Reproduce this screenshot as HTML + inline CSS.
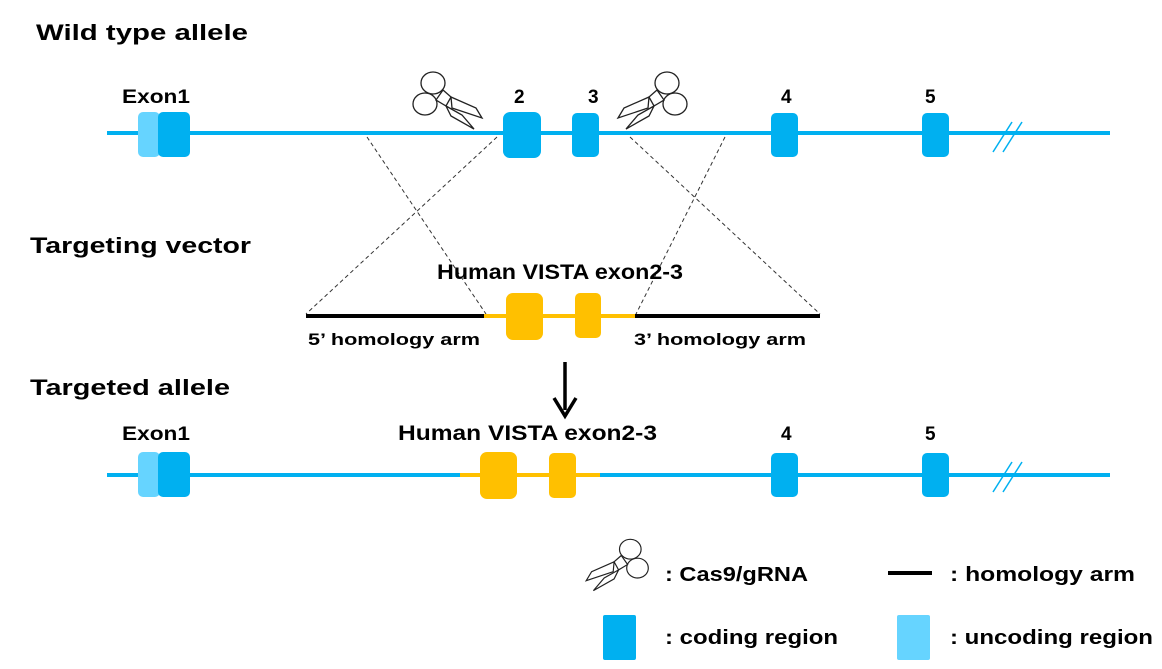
<!DOCTYPE html>
<html><head><meta charset="utf-8"><style>
body{margin:0;background:#fff;width:1162px;height:664px;overflow:hidden}
svg text{font-family:"Liberation Sans",sans-serif;font-weight:bold;fill:#000}
</style></head><body>
<svg width="1162" height="664" viewBox="0 0 1162 664" xmlns="http://www.w3.org/2000/svg">
<defs>
<g id="sc" fill="#fff" stroke="#222" stroke-width="1.3">
  <ellipse cx="33" cy="18" rx="12" ry="11"/>
  <ellipse cx="25" cy="39" rx="12" ry="11"/>
  <path d="M43 25 L51 32 L46 41 L36 35 Z"/>
  <path d="M51 32 L76 43 L82 53 L52 43 Z"/>
  <path d="M46 41 L62 50 L74 64 L51 51 Z"/>
</g>
</defs>
<g font-size="22">
<text x="36" y="40" textLength="212" lengthAdjust="spacingAndGlyphs">Wild type allele</text>
<text x="30" y="253" textLength="221" lengthAdjust="spacingAndGlyphs">Targeting vector</text>
<text x="30" y="395" textLength="200" lengthAdjust="spacingAndGlyphs">Targeted allele</text>
</g>
<!-- wild type -->
<rect x="107" y="131" width="1003" height="4" fill="#00b0f0"/>
<rect x="138" y="112" width="22" height="45" rx="5" fill="#66d4ff"/>
<rect x="158" y="112" width="32" height="45" rx="5" fill="#00b0f0"/>
<rect x="503" y="112" width="38" height="46" rx="7" fill="#00b0f0"/>
<rect x="572" y="113" width="27" height="44" rx="5" fill="#00b0f0"/>
<rect x="771" y="113" width="27" height="44" rx="5" fill="#00b0f0"/>
<rect x="922" y="113" width="27" height="44" rx="5" fill="#00b0f0"/>
<g stroke="#00b0f0" stroke-width="1.5"><line x1="993" y1="152" x2="1012" y2="122"/><line x1="1003" y1="152" x2="1022" y2="122"/></g>
<g font-size="19">
<text x="122" y="103" textLength="68" lengthAdjust="spacingAndGlyphs">Exon1</text>
<text x="514" y="103">2</text><text x="588" y="103">3</text>
<text x="781" y="103">4</text><text x="925" y="103">5</text>
</g>
<use href="#sc" transform="translate(400,65)"/>
<use href="#sc" transform="translate(700,65) scale(-1,1)"/>
<!-- dashed -->
<g stroke="#333" stroke-width="1" stroke-dasharray="4,3">
<line x1="367" y1="137" x2="486" y2="314"/>
<line x1="497" y1="137" x2="306" y2="314"/>
<line x1="630" y1="137" x2="820" y2="314"/>
<line x1="725" y1="137" x2="636" y2="314"/>
</g>
<!-- vector -->
<rect x="306" y="314" width="178" height="4" fill="#000"/>
<rect x="484" y="314" width="152" height="4" fill="#ffc000"/>
<rect x="635" y="314" width="185" height="4" fill="#000"/>
<rect x="506" y="293" width="37" height="47" rx="7" fill="#ffc000"/>
<rect x="575" y="293" width="26" height="45" rx="5" fill="#ffc000"/>
<text x="437" y="279" font-size="21" textLength="246" lengthAdjust="spacingAndGlyphs">Human VISTA exon2-3</text>
<text x="308" y="345" font-size="17" textLength="172" lengthAdjust="spacingAndGlyphs">5’ homology arm</text>
<text x="634" y="345" font-size="17" textLength="172" lengthAdjust="spacingAndGlyphs">3’ homology arm</text>
<!-- arrow -->
<line x1="565" y1="362" x2="565" y2="410" stroke="#000" stroke-width="3.5"/>
<path d="M554 398 L565 416 L576 398" fill="none" stroke="#000" stroke-width="3.5"/>
<!-- targeted -->
<rect x="107" y="473" width="353" height="4" fill="#00b0f0"/>
<rect x="460" y="473" width="140" height="4" fill="#ffc000"/>
<rect x="600" y="473" width="510" height="4" fill="#00b0f0"/>
<rect x="138" y="452" width="22" height="45" rx="5" fill="#66d4ff"/>
<rect x="158" y="452" width="32" height="45" rx="5" fill="#00b0f0"/>
<rect x="480" y="452" width="37" height="47" rx="7" fill="#ffc000"/>
<rect x="549" y="453" width="27" height="45" rx="5" fill="#ffc000"/>
<rect x="771" y="453" width="27" height="44" rx="5" fill="#00b0f0"/>
<rect x="922" y="453" width="27" height="44" rx="5" fill="#00b0f0"/>
<g stroke="#00b0f0" stroke-width="1.5"><line x1="993" y1="492" x2="1012" y2="462"/><line x1="1003" y1="492" x2="1022" y2="462"/></g>
<g font-size="19">
<text x="122" y="440" textLength="68" lengthAdjust="spacingAndGlyphs">Exon1</text>
<text x="398" y="440" font-size="21" textLength="259" lengthAdjust="spacingAndGlyphs">Human VISTA exon2-3</text>
<text x="781" y="440">4</text><text x="925" y="440">5</text>
</g>
<!-- legend -->
<use href="#sc" transform="translate(660,533) scale(-0.9,0.9)"/>
<text x="665" y="581" font-size="20" textLength="143" lengthAdjust="spacingAndGlyphs">: Cas9/gRNA</text>
<rect x="888" y="571" width="44" height="4" fill="#000"/>
<text x="950" y="581" font-size="20" textLength="185" lengthAdjust="spacingAndGlyphs">: homology arm</text>
<rect x="603" y="615" width="33" height="45" rx="2" fill="#00b0f0"/>
<text x="665" y="644" font-size="20" textLength="173" lengthAdjust="spacingAndGlyphs">: coding region</text>
<rect x="897" y="615" width="33" height="45" rx="2" fill="#66d4ff"/>
<text x="950" y="644" font-size="20" textLength="203" lengthAdjust="spacingAndGlyphs">: uncoding region</text>
</svg>
</body></html>
